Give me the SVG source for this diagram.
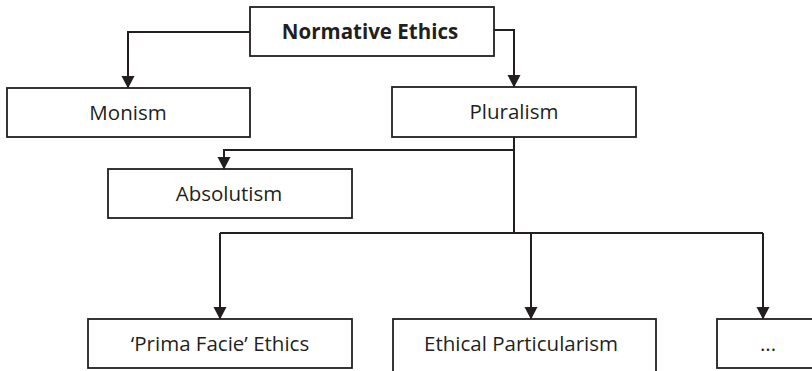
<svg xmlns="http://www.w3.org/2000/svg" width="812" height="371" viewBox="0 0 812 371">
  <style>
    .box { fill: #ffffff; stroke: #231f20; stroke-width: 1.8; }
    .lbl { font-family: "Open Sans", "Liberation Sans", sans-serif; font-size: 20.5px; fill: #231f20; text-anchor: middle; }
    .bold { font-weight: bold; }
    .conn { fill: none; stroke: #231f20; stroke-width: 2; }
  </style>
  <defs>
    <marker id="arrow" markerUnits="userSpaceOnUse" markerWidth="14" markerHeight="14" viewBox="0 0 14 14" refX="12" refY="7" orient="auto">
      <path d="M0,0.5 L12.5,7 L0,13.5 Z" fill="#231f20"/>
    </marker>
  </defs>
  <rect width="812" height="371" fill="#ffffff"/>

  <g id="connectors">
    <path class="conn" d="M250,32 H128 V88" marker-end="url(#arrow)"/>
    <path class="conn" d="M494,30 H514 V87" marker-end="url(#arrow)"/>
    <path class="conn" d="M514,137 V233"/>
    <path class="conn" d="M514,150 H224 V169" marker-end="url(#arrow)"/>
    <path class="conn" d="M220,233 H763"/>
    <path class="conn" d="M220,233 V319" marker-end="url(#arrow)"/>
    <path class="conn" d="M531,233 V319" marker-end="url(#arrow)"/>
    <path class="conn" d="M763,233 V319" marker-end="url(#arrow)"/>
  </g>

  <g id="node-normative-ethics">
    <rect class="box" x="250" y="7" width="244" height="49"/>
    <text class="lbl bold" x="370" y="39">Normative Ethics</text>
  </g>
  <g id="node-monism">
    <rect class="box" x="7" y="88" width="243" height="49"/>
    <text class="lbl" x="128" y="120">Monism</text>
  </g>
  <g id="node-pluralism">
    <rect class="box" x="392" y="87" width="244" height="50"/>
    <text class="lbl" x="514" y="119">Pluralism</text>
  </g>
  <g id="node-absolutism">
    <rect class="box" x="108" y="169" width="244" height="49"/>
    <text class="lbl" x="229" y="201">Absolutism</text>
  </g>
  <g id="node-prima-facie">
    <rect class="box" x="88" y="319" width="264" height="49"/>
    <text class="lbl" x="220" y="351">‘Prima Facie’ Ethics</text>
  </g>
  <g id="node-ethical-particularism">
    <rect class="box" x="393" y="319" width="263" height="70"/>
    <text class="lbl" x="521" y="351">Ethical Particularism</text>
  </g>
  <g id="node-more">
    <rect class="box" x="717" y="319" width="110" height="49"/>
    <text class="lbl" x="768" y="351">...</text>
  </g>
</svg>
